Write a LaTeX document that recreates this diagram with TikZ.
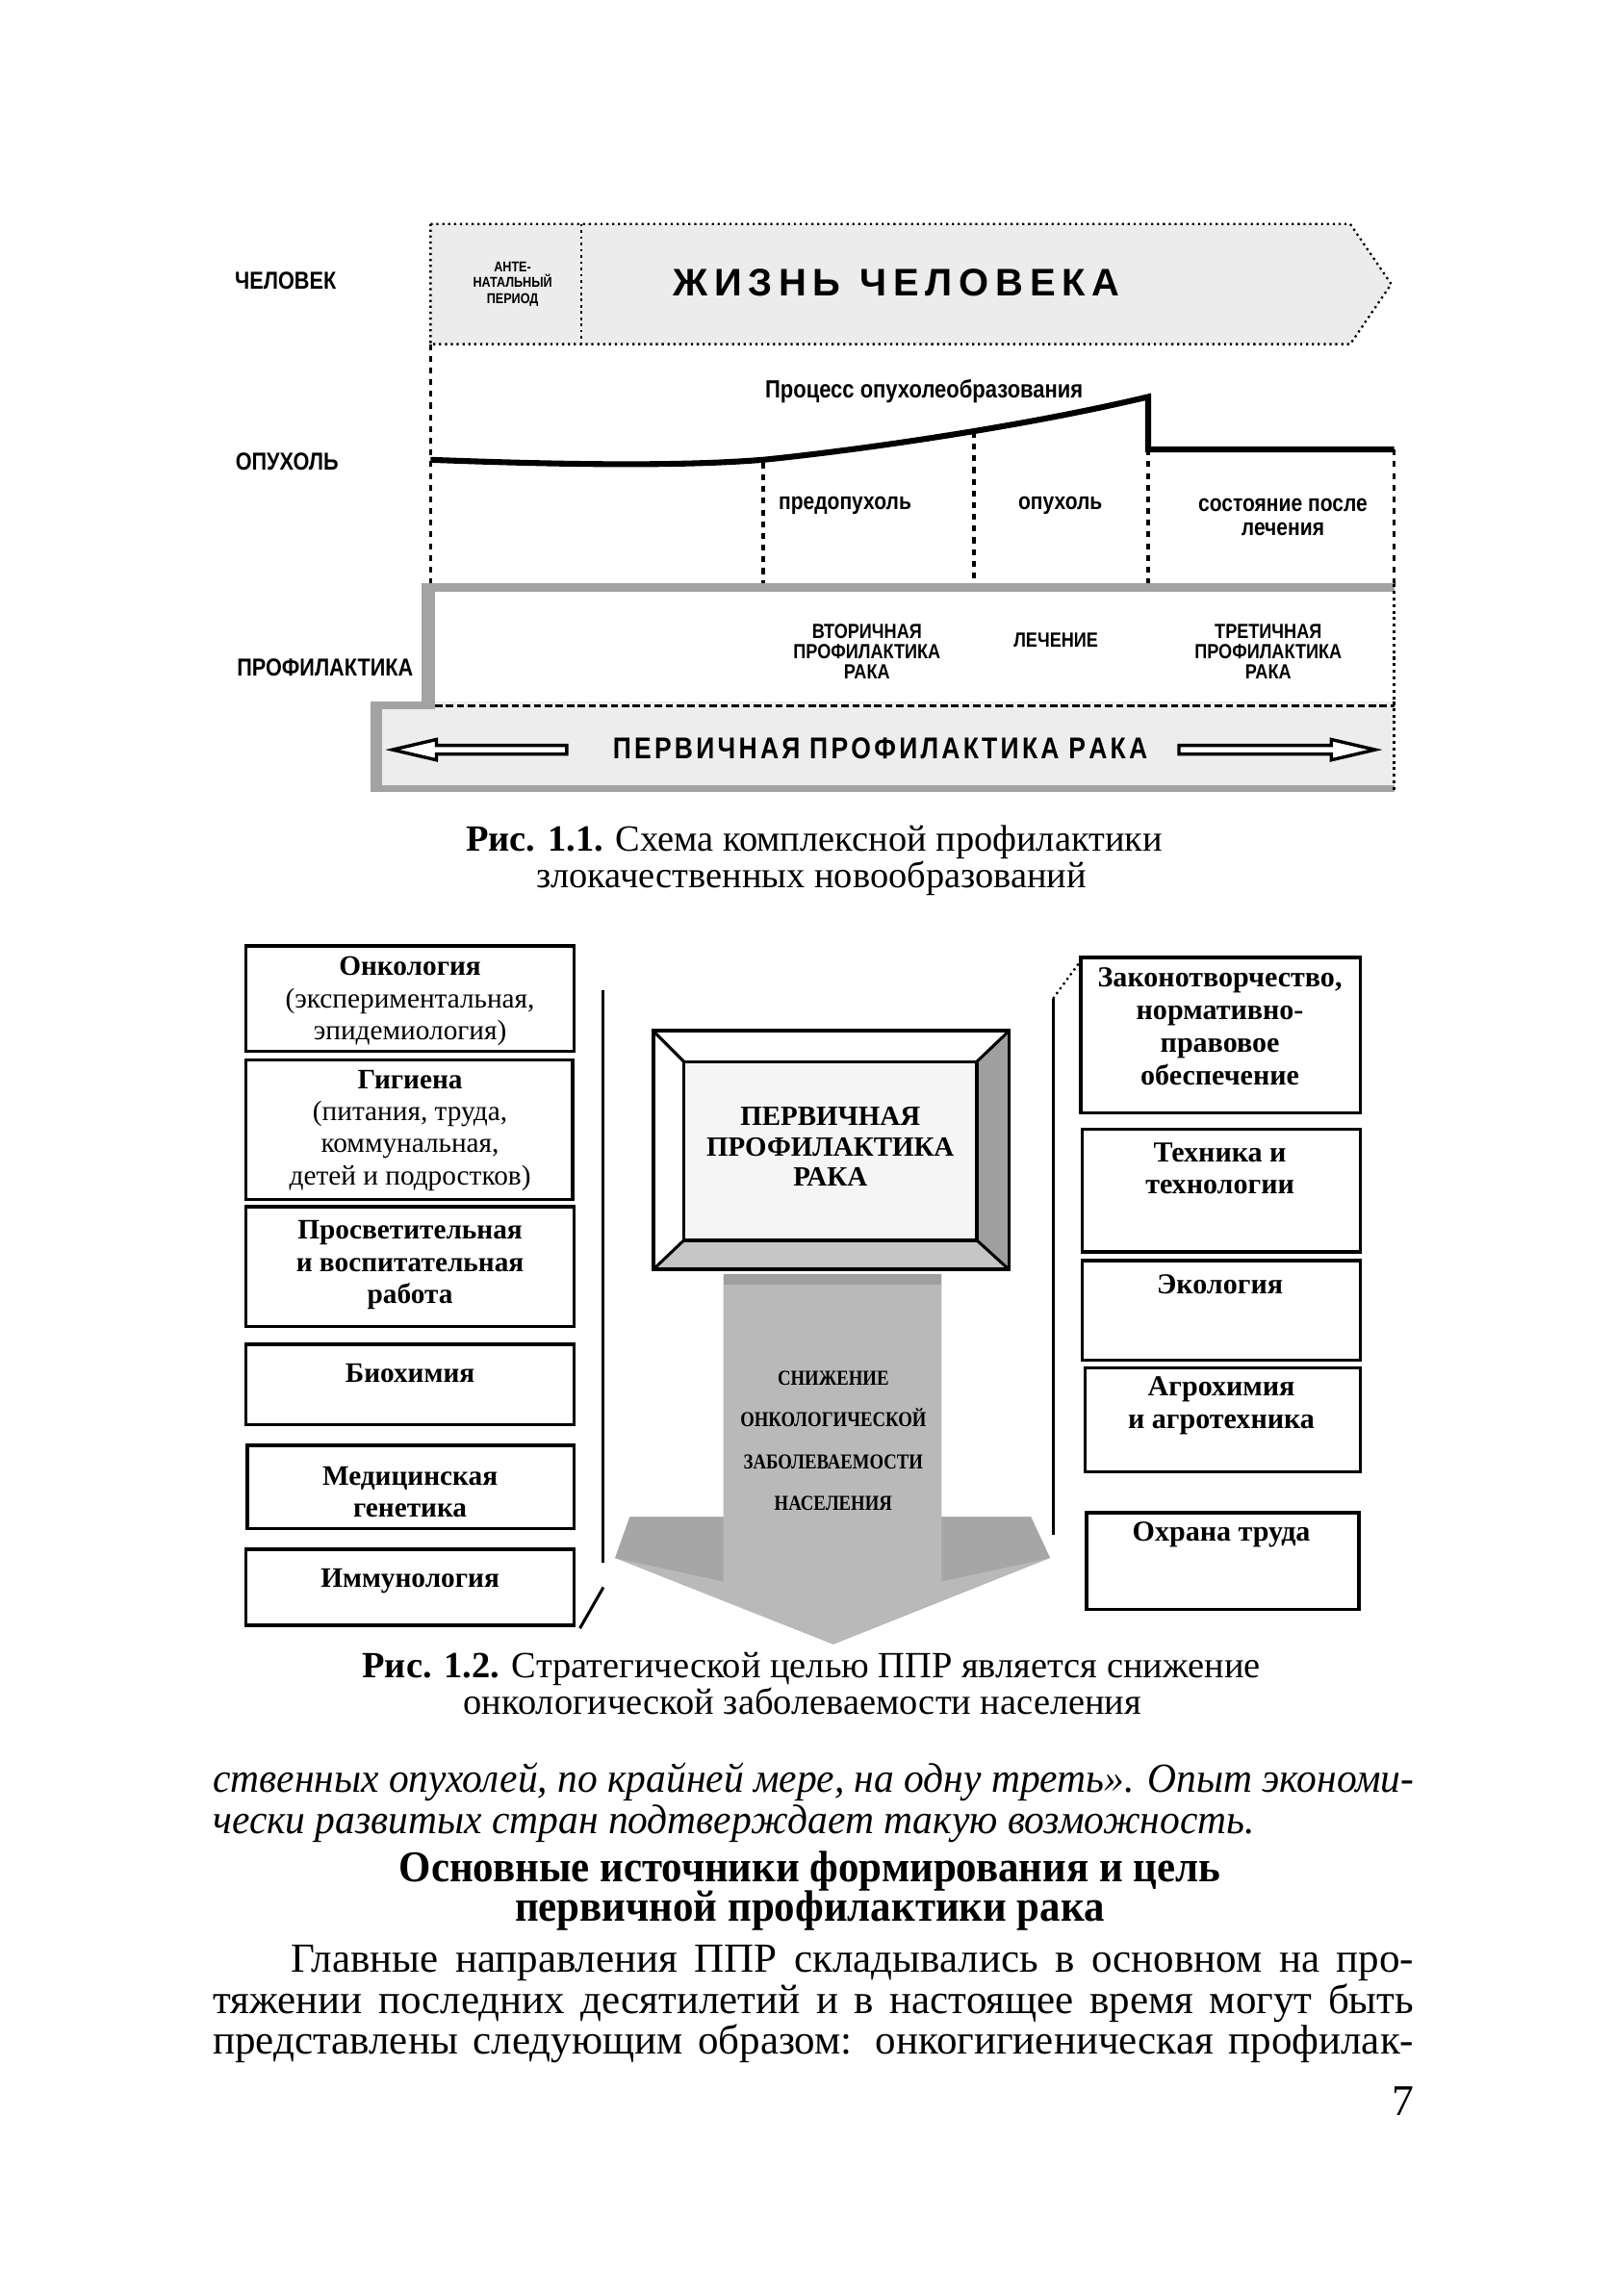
\documentclass[tikz,border=0pt]{standalone}
\usepackage{fontspec}
\setmainfont{Liberation Serif}
\newfontfamily\labsans[FakeStretch=0.85]{Liberation Sans}
\newfontfamily\widesans{Liberation Sans}
\newfontfamily\condserif[FakeStretch=0.85]{Liberation Serif}
\newfontfamily\headserif[FakeStretch=0.94]{Liberation Serif}
\newfontfamily\itserif[FakeStretch=0.965]{Liberation Serif}
\usetikzlibrary{fit}
\begin{document}
\begin{tikzpicture}[x=0.4pt,y=-0.4pt,
  lab/.style={font=\labsans\bfseries\fontsize{6.7}{6.7}\selectfont, inner sep=0},
  lowlab/.style={font=\labsans\bfseries\fontsize{6.5}{6.5}\selectfont, inner sep=0, align=center},
  capsm/.style={font=\labsans\bfseries\fontsize{5.6}{5.5}\selectfont, inner sep=0, align=center},
  vline/.style={line width=0.9pt, dash pattern=on 1.6pt off 1.6pt},
  band/.style={fill=gray!72},
  blockarrow/.style={draw, line width=0.9pt, fill=white},
  box/.style={draw, line width=0.9pt, inner sep=0},
  ltxt/.style={font=\fontsize{7.7}{8.8}\selectfont, inner sep=0, align=center},
  rtxt/.style={font=\bfseries\fontsize{7.9}{8.9}\selectfont, inner sep=0, align=center},
  capt/.style={font=\fontsize{10.1}{10.1}\selectfont, inner sep=0, anchor=base},
  body/.style={font=\fontsize{11.3}{11.3}\selectfont, inner sep=0, anchor=base west},
  head/.style={font=\headserif\bfseries\fontsize{12}{12}\selectfont, inner sep=0, anchor=base}
]
\useasboundingbox (0,0) rectangle (1101,1568);

% ================= Fig. 1.1 =================
% top banner "life of a human"
\fill[gray!15] (294,153) -- (922,153) -- (950,194) -- (922,235) -- (294,235) -- cycle;
\draw[densely dotted, line width=0.6pt] (294,153) -- (922,153) -- (950,194) -- (922,235) -- (294,235) -- cycle;
\draw[densely dotted, line width=0.7pt] (397,153) -- (397,235);

\node[lab] (chel) at (195,192) {ЧЕЛОВЕК};
\node[font=\labsans\bfseries\fontsize{3.9}{4.4}\selectfont, inner sep=0, align=center] (ante) at (350,194) {АНТЕ-\\НАТАЛЬНЫЙ\\ПЕРИОД};
\node[font=\widesans\bfseries\fontsize{10.5}{10.5}\selectfont, inner sep=0] (life) at (612,193)
  {\makebox[122pt]{Ж\hfill И\hfill З\hfill Н\hfill Ь\hfill\hfill\hfill Ч\hfill Е\hfill Л\hfill О\hfill В\hfill Е\hfill К\hfill А}};

% tumour process
\draw[vline] (294,235) -- (294,399);
\draw[vline] (521,316) -- (521,399);
\draw[vline] (665,295) -- (665,399);
\draw[vline] (784,307) -- (784,399);
\draw[vline] (952,307) -- (952,399);
\draw[line width=1.6pt, line join=miter] (294,314) .. controls (400,318) and (470,318) .. (521,314)
  .. controls (590,307) and (700,291) .. (784,271) -- (784,307) -- (952,307);

\node[lab] (opuxl) at (196,315) {ОПУХОЛЬ};
\node[lowlab, font=\labsans\bfseries\fontsize{6.8}{6.8}\selectfont] (proc) at (631,267) {Процесс опухолеобразования};
\node[lowlab] (pred) at (577,345) {предопухоль};
\node[lowlab] (opux) at (724,345) {опухоль};
\node[lowlab, font=\labsans\bfseries\fontsize{6.5}{6.6}\selectfont] (sost) at (876,353) {состояние после\\лечения};

% prophylaxis box
\fill[band] (288,398) rectangle (952,404);
\fill[band] (288,398) rectangle (297,482);
\draw[densely dotted, line width=0.8pt] (952,399) -- (952,482);
\node[lab] (prof) at (222,456) {ПРОФИЛАКТИКА};
\node[capsm] (vtor) at (592,445) {ВТОРИЧНАЯ\\ПРОФИЛАКТИКА\\РАКА};
\node[capsm] (lech) at (721,437) {ЛЕЧЕНИЕ};
\node[capsm] (tret) at (866,445) {ТРЕТИЧНАЯ\\ПРОФИЛАКТИКА\\РАКА};

% bottom banner
\fill[gray!14] (253,479) rectangle (952,541);
\fill[band] (253,479) rectangle (261,541);
\fill[band] (253,479) rectangle (297,484);
\fill[band] (253,536) rectangle (952,541);
\draw[line width=0.8pt, dash pattern=on 2pt off 1pt] (297,482) -- (952,482);
\draw[densely dotted, line width=0.8pt] (952,479) -- (952,541);
\draw[blockarrow] (268,512) -- (298,505) -- (298,509) -- (387,509) -- (387,515) -- (298,515) -- (298,519) -- cycle;
\draw[blockarrow] (939,512) -- (909,505) -- (909,509) -- (805,509) -- (805,515) -- (909,515) -- (909,519) -- cycle;
\node[font=\labsans\bfseries\fontsize{8.2}{8.2}\selectfont, inner sep=0] (perv) at (601,511)
  {\makebox[146pt]{П\hfill Е\hfill Р\hfill В\hfill И\hfill Ч\hfill Н\hfill А\hfill Я\hfill\hfill\hfill П\hfill Р\hfill О\hfill Ф\hfill И\hfill Л\hfill А\hfill К\hfill Т\hfill И\hfill К\hfill А\hfill\hfill\hfill Р\hfill А\hfill К\hfill А}};

% caption 1.1
\node[capt] (cap1a) at (556,581) {\textbf{Рис. 1.1.} Схема комплексной профилактики};
\node[capt] (cap1b) at (554,606) {злокачественных новообразований};

% ================= Fig. 1.2 =================
% left column
\node[box, fit={(168,646) (392,718)}] (onk) {};
\node[box, fit={(168,724) (391,819)}] (gig) {};
\node[box, fit={(168,824) (392,906)}] (pros) {};
\node[box, fit={(168,918) (392,973)}] (bio) {};
\node[box, fit={(169,987) (392,1044)}] (med) {};
\node[box, fit={(168,1058) (392,1110)}] (imm) {};
\node[ltxt] (onkt) at (280,684) {\textbf{Онкология}\\(экспериментальная,\\эпидемиология)};
\node[ltxt] (gigt) at (280,772) {\textbf{Гигиена}\\(питания, труда,\\коммунальная,\\детей и подростков)};
\node[ltxt, font=\bfseries\fontsize{7.7}{8.8}\selectfont] (prost) at (280,864) {Просветительная\\и воспитательная\\работа};
\node[ltxt, font=\bfseries\fontsize{7.7}{8.8}\selectfont] (biot) at (280,938) {Биохимия};
\node[ltxt, font=\bfseries\fontsize{7.7}{8.8}\selectfont] (medt) at (280,1019) {Медицинская\\генетика};
\node[ltxt, font=\bfseries\fontsize{7.7}{8.8}\selectfont] (immt) at (280,1080) {Иммунология};

% left bracket
\coordinate (lbt) at (412,676);
\coordinate (lbb) at (412,1067);
\coordinate (lbd1) at (412,1084);
\coordinate (lbd2) at (396,1112);
\draw[line width=0.8pt] (lbt) -- (lbb);
\draw[line width=0.8pt] (lbd1) -- (lbd2);

% right column
\node[box, fit={(738,654) (929,760)}] (zak) {};
\node[box, fit={(739,771) (929,855)}] (tex) {};
\node[box, fit={(739,861) (929,929)}] (eko) {};
\node[box, fit={(741,934) (929,1005)}] (agr) {};
\node[box, fit={(742,1033) (928,1099)}] (ohr) {};
\node[rtxt] (zakt) at (833,701) {Законотворчество,\\нормативно-\\правовое\\обеспечение};
\node[rtxt] (text) at (833,798) {Техника и\\технологии};
\node[rtxt] (ekot) at (833,877) {Экология};
\node[rtxt] (agrt) at (834,960) {Агрохимия\\и агротехника};
\node[rtxt] (ohrt) at (834,1048) {Охрана труда};

% right bracket
\coordinate (rbt) at (719,682);
\coordinate (rbb) at (719,1048);
\coordinate (rbd) at (738,656);
\draw[line width=0.8pt] (rbb) -- (rbt);
\draw[line width=0.6pt, densely dotted] (rbt) -- (rbd);

% central 3D box
\fill[white] (446,704) -- (689,704) -- (667,725) -- (467,725) -- cycle;
\fill[white] (446,704) -- (467,725) -- (467,847) -- (446,867) -- cycle;
\fill[gray!75] (689,704) -- (689,867) -- (667,847) -- (667,725) -- cycle;
\fill[gray!45] (446,867) -- (689,867) -- (667,847) -- (467,847) -- cycle;
\fill[gray!8] (467,725) rectangle (667,847);
\draw[line width=1pt] (446,704) rectangle (689,867);
\draw[line width=0.9pt] (467,725) rectangle (667,847);
\draw[line width=0.8pt] (446,704) -- (467,725) (689,704) -- (667,725) (446,867) -- (467,847) (689,867) -- (667,847);
\node[font=\bfseries\fontsize{7.6}{8.4}\selectfont, inner sep=0, align=center] (ppr) at (567,783) {ПЕРВИЧНАЯ\\ПРОФИЛАКТИКА\\РАКА};

% down arrow
\fill[gray!55] (494,870) -- (643,870) -- (643,1036) -- (704,1036) -- (717,1064) -- (569,1123) -- (420,1064) -- (430,1036) -- (494,1036) -- cycle;
\fill[gray!75] (494,870) rectangle (643,877);
\fill[gray!70] (430,1036) -- (494,1036) -- (494,1080) -- (420,1064) -- cycle;
\fill[gray!70] (643,1036) -- (704,1036) -- (717,1064) -- (643,1080) -- cycle;
\node[font=\condserif\bfseries\fontsize{5.8}{11.4}\selectfont, inner sep=0, align=center] (snij) at (569,984) {СНИЖЕНИЕ\\ОНКОЛОГИЧЕСКОЙ\\ЗАБОЛЕВАЕМОСТИ\\НАСЕЛЕНИЯ};

% caption 1.2
\node[capt] (cap2a) at (554,1146) {\textbf{Рис. 1.2.} Стратегической целью ППР является снижение};
\node[capt] (cap2b) at (548,1171) {онкологической заболеваемости населения};

% ================= body text =================
\node[body, font=\itserif\itshape\fontsize{11.3}{11.3}\selectfont] (it1) at (145,1224) {\makebox[328pt][s]{ственных опухолей, по крайней мере, на одну треть». Опыт экономи-}};
\node[body, font=\itserif\itshape\fontsize{11.3}{11.3}\selectfont] (it2) at (145,1252) {чески развитых стран подтверждает такую возможность.};
\node[head] (h1) at (553,1285) {Основные источники формирования и цель};
\node[head] (h2) at (553,1312) {первичной профилактики рака};
\node[body] (p1) at (198,1347) {\makebox[306.8pt][s]{Главные направления ППР складывались в основном на про-}};
\node[body] (p2) at (145,1375) {\makebox[328pt][s]{тяжении последних десятилетий и в настоящее время могут быть}};
\node[body] (p3) at (145,1403) {\makebox[328pt][s]{представлены следующим образом: онкогигиеническая профилак-}};
\node[font=\fontsize{12}{12}\selectfont, inner sep=0, anchor=base] (pnum) at (958,1445) {7};
\end{tikzpicture}
\end{document}
